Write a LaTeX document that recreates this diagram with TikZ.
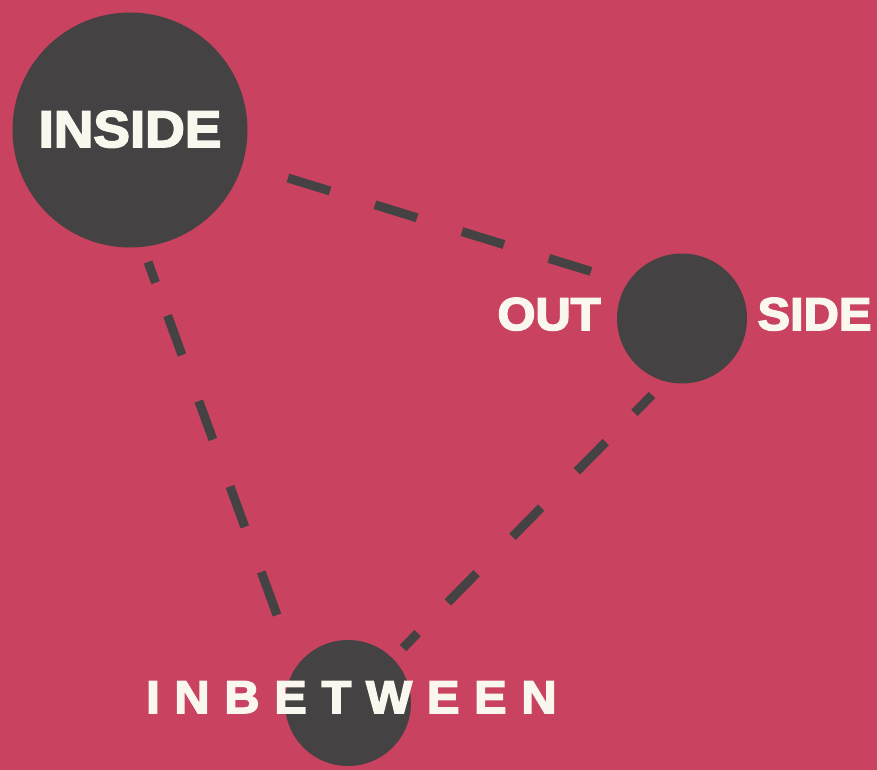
\documentclass[tikz,border=0pt]{standalone}
\usepackage{fontspec}
\setmainfont{Liberation Sans}
\newfontfamily\heavy[FakeBold=3.5,FakeStretch=1.06]{Liberation Sans Bold}
\newfontfamily\heavyspaced[FakeBold=3.5,FakeStretch=1.06,LetterSpace=32]{Liberation Sans Bold}
\usetikzlibrary{calc}
\definecolor{bg}{RGB}{201,66,96}
\definecolor{ink}{RGB}{68,66,66}
\definecolor{paper}{RGB}{250,247,238}
\begin{document}
\begin{tikzpicture}[x=1pt,y=-1pt,
  blob/.style={circle,fill=ink,inner sep=0pt,minimum size=#1},
  lbl/.style={text=paper,inner sep=0pt,anchor=base},
  link/.style={draw=ink,line width=9pt}]
\fill[bg] (0,0) rectangle (877,770);
\useasboundingbox (0,0) rectangle (877,770);
\node[blob=235pt] (inside) at (130,130) {};
\node[blob=130pt] (outside) at (682,318.5) {};
\node[blob=126pt] (inbetween) at (348,703) {};
\coordinate (l1a) at ($(inside.center)+(158,48)$);
\coordinate (l1b) at ($(outside.center)+(-89,-46.5)$);
\coordinate (l2a) at ($(inside.center)+(18,132)$);
\coordinate (l2b) at ($(inbetween.center)+(-71,-88)$);
\coordinate (l3a) at ($(outside.center)+(-30,76.5)$);
\coordinate (l3b) at ($(inbetween.center)+(55,-55)$);
\draw[link,dash pattern=on 44pt off 47pt] (l1a) -- (l1b);
\draw[link,dash pattern=on 22pt off 35pt on 42pt off 49pt on 41pt off 50pt on 43pt off 48pt on 46pt off 10pt] (l2a) -- (l2b);
\draw[link,dash pattern=on 25pt off 41pt on 41pt off 51pt on 41pt off 51pt on 41pt off 43pt on 30pt off 10pt] (l3a) -- (l3b);
\node[lbl,font=\heavy\fontsize{51.7pt}{52pt}\selectfont] (tinside) at (130,147) {INSIDE};
\node[lbl,font=\heavy\fontsize{46pt}{46pt}\selectfont] (tout) at (549,330) {OUT};
\node[lbl,font=\heavy\fontsize{46pt}{46pt}\selectfont] (tside) at (814.5,330) {SIDE};
\node[lbl,anchor=base west,font=\heavyspaced\fontsize{46pt}{46pt}\selectfont] (tinbetween) at (146,713) {INBETWEEN};
\end{tikzpicture}
\end{document}
